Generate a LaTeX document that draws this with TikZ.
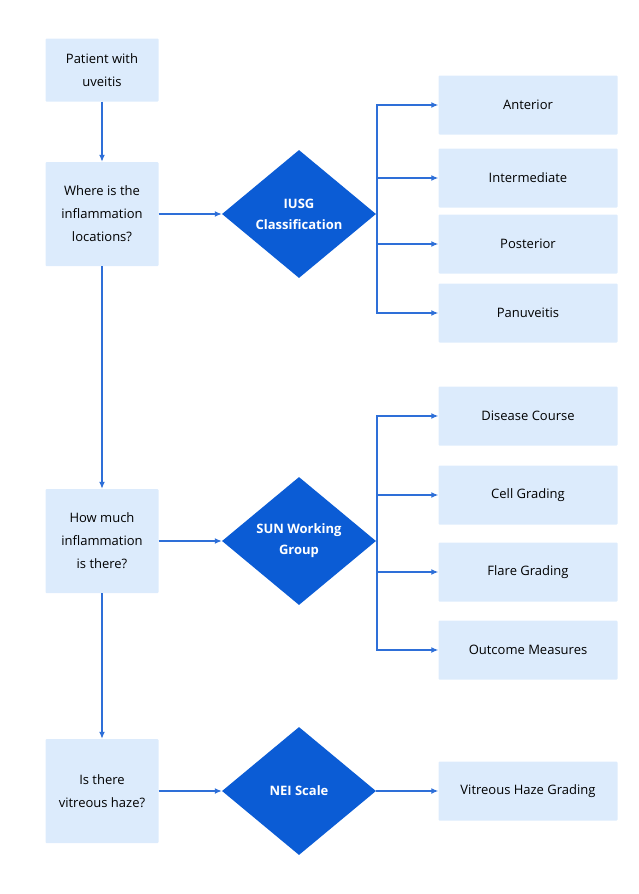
\documentclass[tikz,border=0pt]{standalone}
\usepackage{fontspec}
\setmainfont{Open Sans}
\usetikzlibrary{shapes,arrows.meta,positioning}
\definecolor{boxblue}{HTML}{DCEBFC}
\definecolor{diablue}{HTML}{0B5CD5}
\definecolor{lineblue}{HTML}{2E6FD8}
\tikzset{
  box/.style={fill=boxblue,rounded corners=1pt,minimum width=113pt,align=center,font=\fontsize{13}{23}\selectfont},
  rbox/.style={fill=boxblue,rounded corners=1pt,minimum width=179pt,minimum height=59pt,font=\fontsize{13}{16}\selectfont},
  dia/.style={diamond,fill=diablue,minimum width=154pt,minimum height=128pt,inner sep=0pt,align=center,text=white,font=\bfseries\fontsize{13}{21}\selectfont},
  arr/.style={-{Latex[length=7pt,width=6pt]},lineblue,line width=1.3pt}
}
\begin{document}
\begin{tikzpicture}[x=1pt,y=-1pt]
\useasboundingbox (0,0) rectangle (638,894);
\node[box,minimum height=63pt] (P) at (102,70) {Patient with\\uveitis};
\node[box,minimum height=104pt] (Q1) at (102,214) {Where is the\\inflammation\\locations?};
\node[box,minimum height=104pt] (Q2) at (102,541) {How much\\inflammation\\is there?};
\node[box,minimum height=104pt] (Q3) at (102,791) {Is there\\vitreous haze?};
\node[dia] (D1) at (299,214) {IUSG\\Classification};
\node[dia] (D2) at (299,541) {SUN Working\\Group};
\node[dia] (D3) at (299,791) {NEI Scale};
% right column
\foreach \t/\y [count=\n] in {Anterior/105,Intermediate/178,Posterior/244,Panuveitis/313}
  \node[rbox] (A\n) at (528,\y) {\t};
\foreach \t/\y [count=\n] in {Disease Course/416,Cell Grading/495,Flare Grading/572,Outcome Measures/650}
  \node[rbox] (B\n) at (528,\y) {\t};
\node[rbox] (C1) at (528,791) {Vitreous Haze Grading};
% main flow
\draw[arr] (P) -- (Q1);
\draw[arr] (Q1) -- (Q2);
\draw[arr] (Q2) -- (Q3);
\draw[arr] (Q1) -- (D1);
\draw[arr] (Q2) -- (D2);
\draw[arr] (Q3) -- (D3);
\draw[arr] (D3) -- (C1);
% buses
\coordinate (J1) at (377,214);
\coordinate (J2) at (377,541);
\draw[lineblue,line width=1.3pt] (D1.east) -- (J1) (D2.east) -- (J2);
\foreach \n in {1,...,4} {
  \draw[arr] (J1) |- (A\n.west);
  \draw[arr] (J2) |- (B\n.west);
}
\end{tikzpicture}
\end{document}
